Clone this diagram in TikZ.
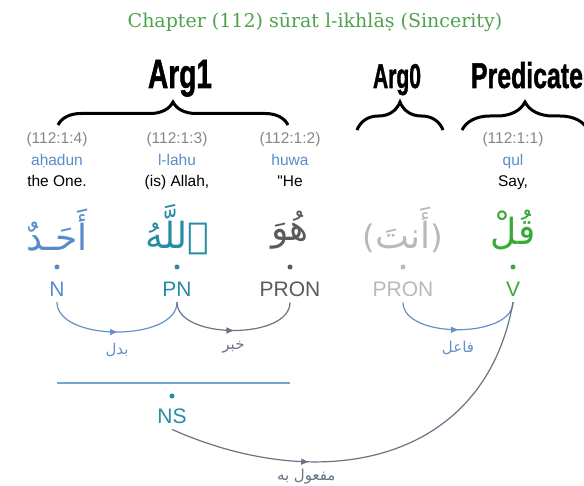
\documentclass[tikz,border=0pt]{standalone}
\usepackage{fontspec}
\setmainfont{Liberation Sans}
\newfontfamily\titlefont{DejaVu Serif}
\newfontfamily\argfont{Liberation Sans}[UprightFont=* Bold, FakeBold=1.5]
\newfontfamily\parenfont{DejaVu Sans}[Scale=0.9]
\newfontfamily\arabicfont[Script=Arabic]{DejaVu Sans}
\font\plainsans="Liberation Sans" at 15.5pt
\TeXXeTstate=1
\usetikzlibrary{positioning, calc, arrows.meta, decorations.pathreplacing, decorations.markings}

\definecolor{titlegreen}{RGB}{78,162,78}
\definecolor{refgray}{RGB}{135,135,135}
\definecolor{nounblue}{RGB}{88,140,200}
\definecolor{allahteal}{RGB}{40,140,165}
\definecolor{prongray}{RGB}{90,90,90}
\definecolor{hidgray}{RGB}{185,185,185}
\definecolor{verbgreen}{RGB}{55,170,55}
\definecolor{arcblue}{RGB}{100,145,200}
\definecolor{arcgray}{RGB}{105,115,130}
\definecolor{barblue}{RGB}{115,165,205}

\tikzset{chaptitle/.style={text=titlegreen, font=\titlefont\fontsize{19}{19}\selectfont}}
\tikzset{argtitle/.style={anchor=base, font=\argfont, inner sep=0pt}}
\tikzset{argbrace/.style={decorate, decoration={brace, amplitude=#1}, line width=3pt}}
\tikzset{refno/.style={anchor=base, text=refgray, font=\fontsize{15.5}{15.5}\selectfont}}
\tikzset{translit/.style={anchor=base, text=nounblue, font=\fontsize{15.5}{15.5}\selectfont}}
\tikzset{gloss/.style={anchor=base, font=\fontsize{15.5}{15.5}\selectfont}}
\tikzset{arword/.style={font=\arabicfont\fontsize{36}{36}\selectfont}}
\tikzset{wdot/.style={circle, inner sep=0pt, minimum size=5pt}}
\tikzset{tagtext/.style={anchor=base, inner sep=5pt, font=\fontsize{21}{21}\selectfont}}
\tikzset{relarc/.style={color=#1, line width=1.2pt, postaction={decorate}}}
\tikzset{arrowat/.style={decoration={markings, mark=at position #1 with {\arrow{Triangle[length=7pt, width=6pt]}}}}}
\tikzset{arrowat/.default=0.5}
\tikzset{rellabel/.style={below=7pt, font=\arabicfont\fontsize{15}{15}\selectfont}}

\begin{document}
\begin{tikzpicture}[x=1pt, y=1pt]
  \useasboundingbox (0,0) rectangle (584,-486);

  \node[chaptitle] (title) at (315,-22) {Chapter (112) sūrat l-ikhlāṣ (Sincerity)};

  % argument labels
  \node[argtitle] (arg1) at (180,-88) {\resizebox{64pt}{28pt}{Arg1}};
  \node[argtitle] (arg0) at (397,-88) {\resizebox{48pt}{24pt}{Arg0}};
  \node[argtitle] (pred) at (527,-88) {\resizebox{112pt}{26pt}{Predicate}};
  \draw[argbrace=23] (58,-125) -- (288,-125);
  \draw[argbrace=28] (357,-130) -- (443,-130);
  \draw[argbrace=28] (462,-130) -- (588,-130);

  % word 4
  \node[refno] (ref4) at (57,-144) {(112:1:4)};
  \node[translit] (tr4) at (57,-166) {aḥadun};
  \node[gloss] (gl4) at (57,-187) {the One.};
  \node[arword, text=nounblue] (w4) at (57,-230) {\beginR أَحَـدٌ\endR};
  \node[wdot, fill=nounblue] (d4) at (57,-267) {};
  \node[tagtext, text=nounblue] (n) at (57,-297) {N};

  % word 3
  \node[refno] (ref3) at (177,-144) {(112:1:3)};
  \node[translit] (tr3) at (177,-166) {l-lahu};
  \node[gloss] (gl3) at (177,-187) {(is) Allah,};
  \node[arword, text=allahteal] (w3) at (177,-230) {\beginR ٱللَّهُ\endR};
  \node[wdot, fill=allahteal] (d3) at (177,-267) {};
  \node[tagtext, text=allahteal] (pn) at (177,-297) {PN};

  % word 2
  \node[refno] (ref2) at (290,-144) {(112:1:2)};
  \node[translit] (tr2) at (290,-166) {huwa};
  \node[gloss] (gl2) at (290,-187) {{\plainsans\char34}He};
  \node[arword, text=prongray] (w2) at (290,-230) {\beginR هُوَ\endR};
  \node[wdot, fill=prongray] (d2) at (290,-267) {};
  \node[tagtext, text=prongray] (pron) at (290,-297) {PRON};

  % hidden subject
  \node[arword, text=hidgray] (w0) at (403,-230) {{\parenfont(}\beginR أَنتَ\endR{\parenfont)}};
  \node[wdot, fill=hidgray] (d0) at (403,-267) {};
  \node[tagtext, text=hidgray] (hpron) at (403,-297) {PRON};

  % word 1
  \node[refno] (ref1) at (513,-144) {(112:1:1)};
  \node[translit] (tr1) at (513,-166) {qul};
  \node[gloss] (gl1) at (513,-187) {Say,};
  \node[arword, text=verbgreen] (w1) at (513,-230) {\beginR قُلْ\endR};
  \node[wdot, fill=verbgreen] (d1) at (513,-267) {};
  \node[tagtext, text=verbgreen] (v) at (513,-297) {V};

  % nominal sentence
  \coordinate (nsbar) at (172,-383);
  \draw[barblue, line width=1.5pt] (nsbar -| n) -- (nsbar -| pron);
  \node[wdot, fill=allahteal] (nsdot) at (172,-396) {};
  \node[tagtext, text=allahteal] (ns) at (172,-424) {NS};

  % relations
  \draw[relarc=arcblue, arrowat] (n.south) to[out=-90, in=-90, looseness=0.85]
    node[rellabel] (badal) {\beginR بدل\endR} (pn.south);
  \draw[relarc=arcgray, arrowat] (pn.south) to[out=-90, in=-90, looseness=0.85]
    node[rellabel] (khabar) {\beginR خبر\endR} (pron.south);
  \draw[relarc=arcblue, arrowat] (hpron.south) to[out=-90, in=-90, looseness=0.85]
    node[rellabel] (fail) {\beginR فاعل\endR} (v.south);
  \draw[relarc=arcgray, arrowat=0.33] (ns.south) to[out=-24, in=-100, looseness=1.15]
    node[rellabel, pos=0.3, below=3pt] (maful) {\beginR مفعول به\endR} (v.south);
\end{tikzpicture}
\end{document}
